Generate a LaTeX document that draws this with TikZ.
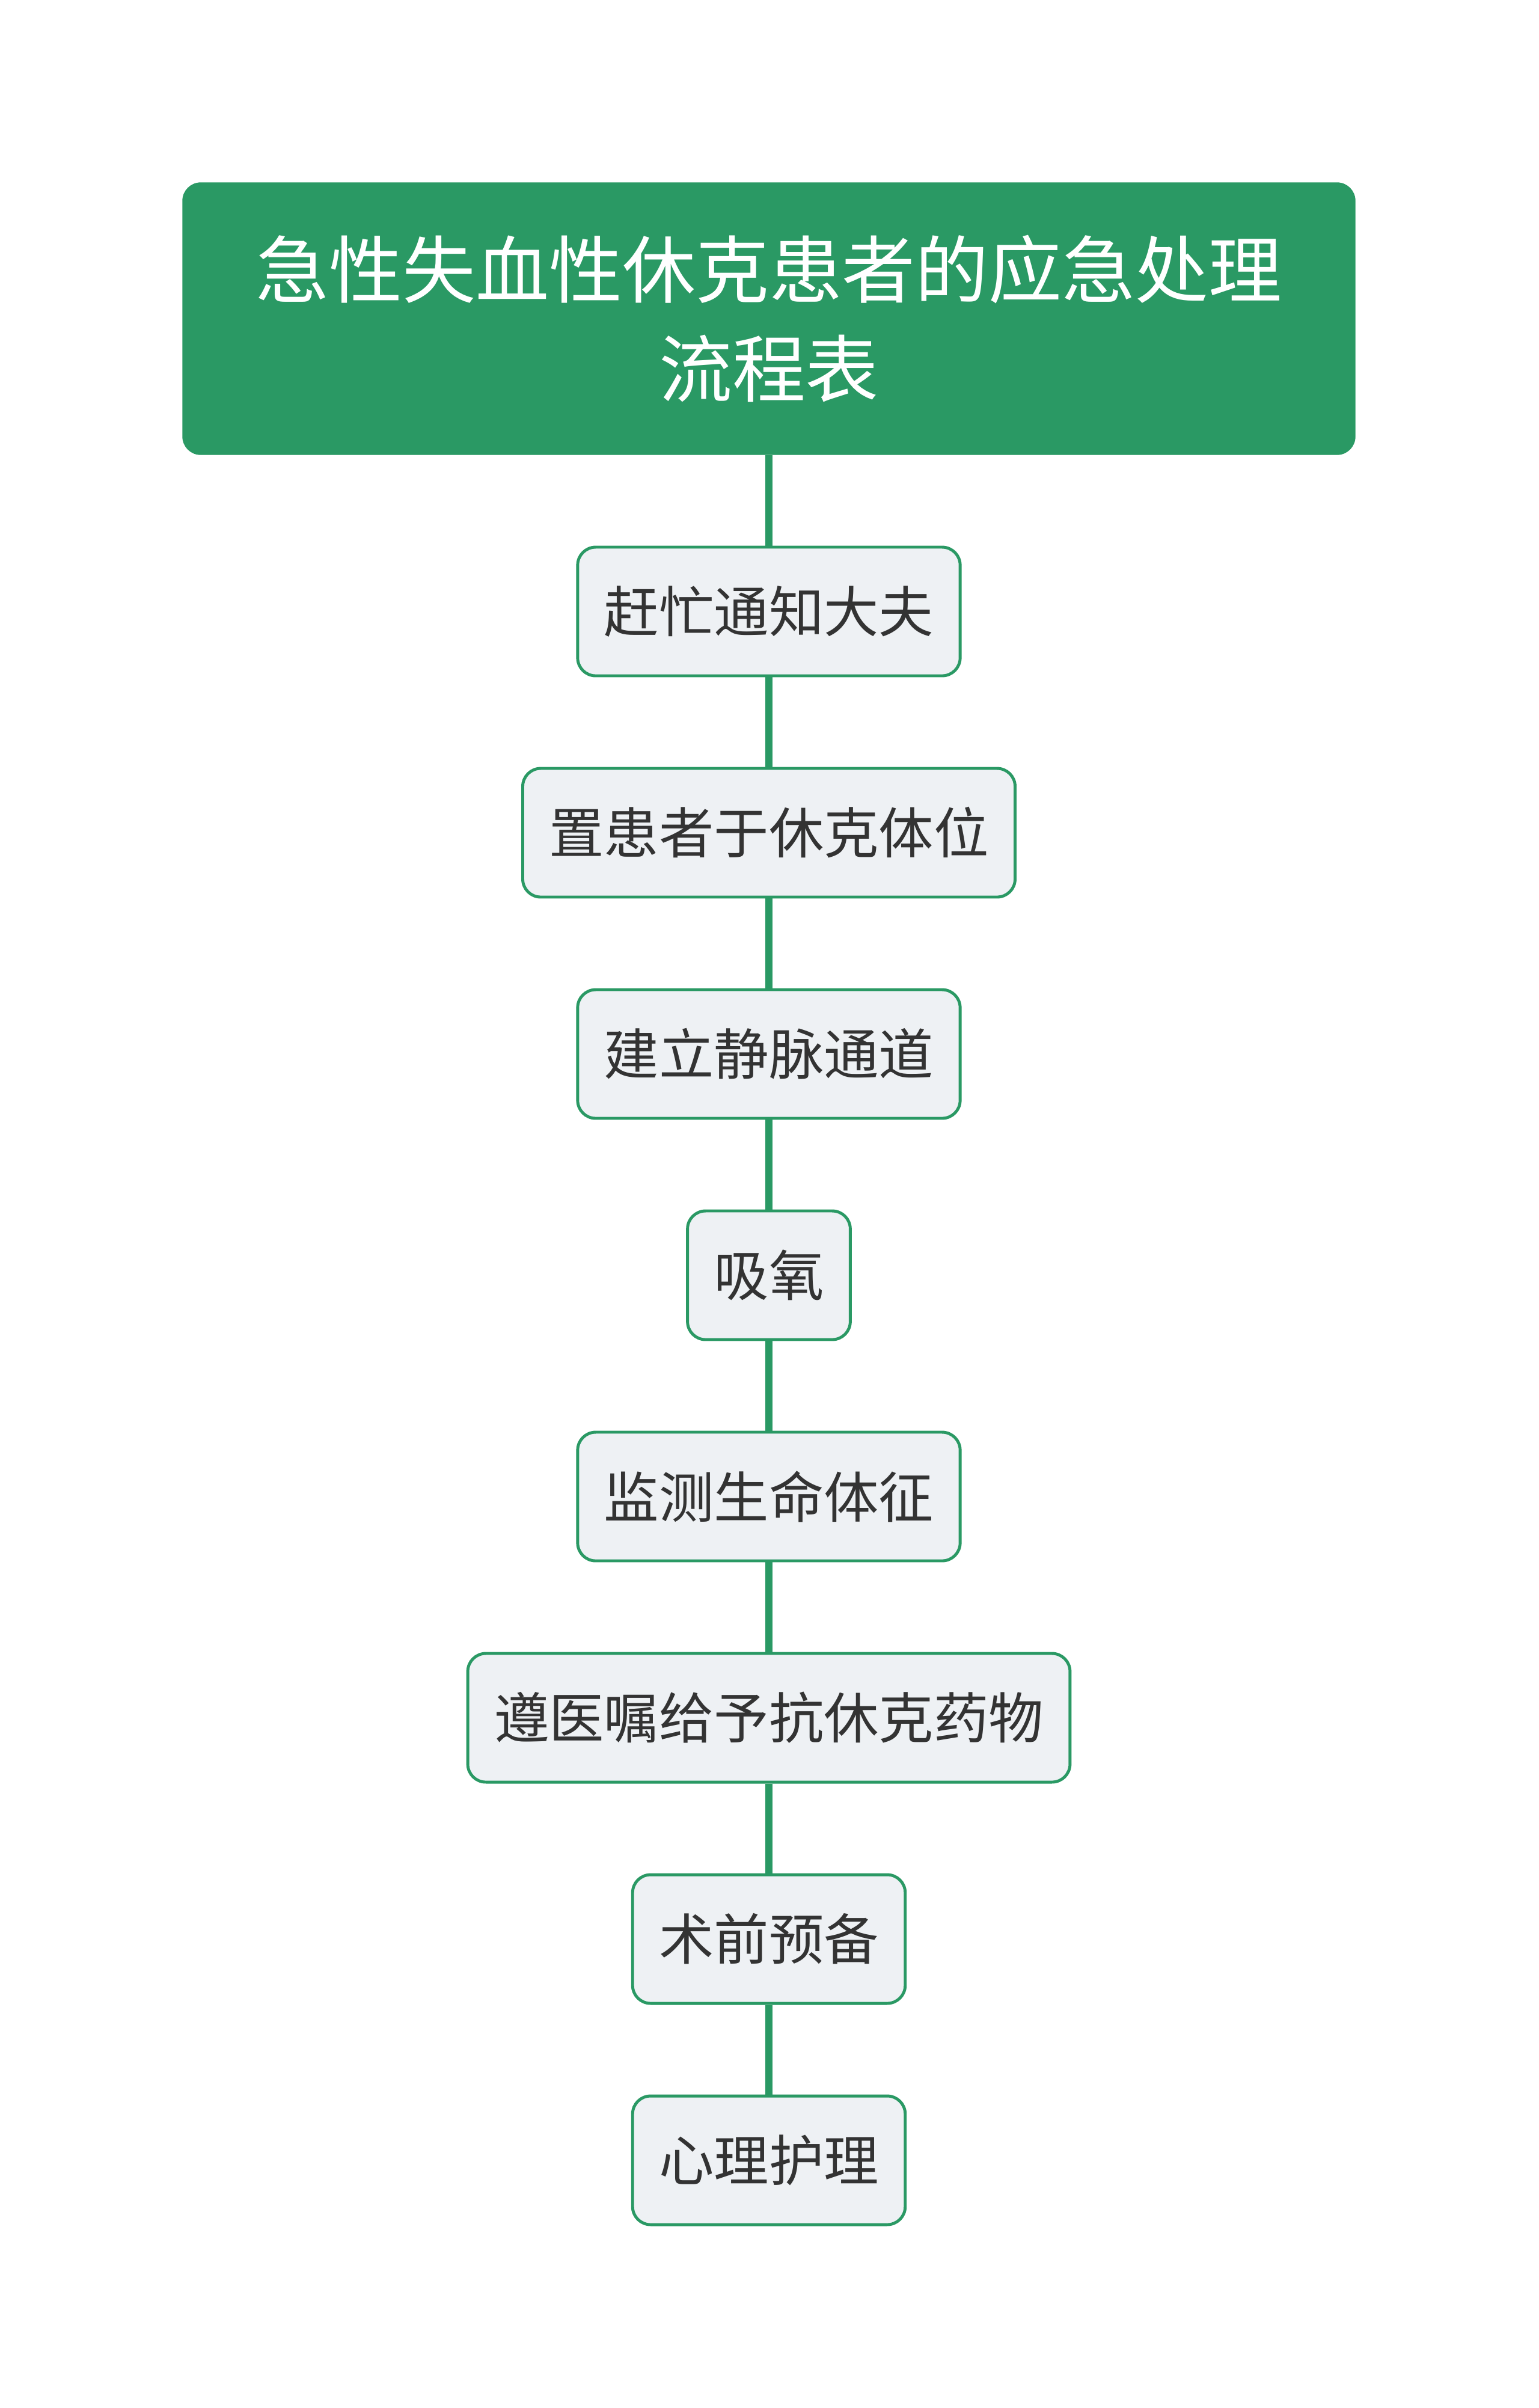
\documentclass[tikz,border=0pt]{standalone}
\usepackage{fontspec}
\setmainfont{Noto Sans CJK SC}
\usetikzlibrary{positioning}
\definecolor{mapgreen}{RGB}{42,153,100}
\definecolor{stepfill}{RGB}{238,241,244}
\definecolor{steptext}{RGB}{51,51,51}
\tikzset{
  titlebox/.style={rectangle, rounded corners=0.3cm, fill=mapgreen, draw=mapgreen, text=white,
    minimum width=19.5cm, minimum height=4.52cm, align=center,
    font=\fontsize{34.7pt}{47pt}\selectfont},
  stepbox/.style={rectangle, rounded corners=0.3cm, fill=stepfill, draw=mapgreen, line width=1.4pt,
    text=steptext, minimum height=2.14cm, inner xsep=0.44cm, font=\fontsize{26pt}{30pt}\selectfont},
  link/.style={draw=mapgreen, line width=3.2pt}
}
\begin{document}
\begin{tikzpicture}[node distance=3.68cm]
    \useasboundingbox (0,0) rectangle (25.6,-40.05);
    \node[titlebox] (title) at (12.79,-5.3) {急性失血性休克患者的应急处理\\流程表};
    \node[stepbox, below of=title, node distance=4.87cm] (notify) {赶忙通知大夫};
    \node[stepbox, below of=notify] (posture) {置患者于休克体位};
    \node[stepbox, below of=posture] (vein) {建立静脉通道};
    \node[stepbox, below of=vein] (oxygen) {吸氧};
    \node[stepbox, below of=oxygen] (vital) {监测生命体征};
    \node[stepbox, below of=vital] (drug) {遵医嘱给予抗休克药物};
    \node[stepbox, below of=drug] (preop) {术前预备};
    \node[stepbox, below of=preop] (mind) {心理护理};

    \draw[link] (title) -- (notify);
    \draw[link] (notify) -- (posture);
    \draw[link] (posture) -- (vein);
    \draw[link] (vein) -- (oxygen);
    \draw[link] (oxygen) -- (vital);
    \draw[link] (vital) -- (drug);
    \draw[link] (drug) -- (preop);
    \draw[link] (preop) -- (mind);
\end{tikzpicture}
\end{document}
